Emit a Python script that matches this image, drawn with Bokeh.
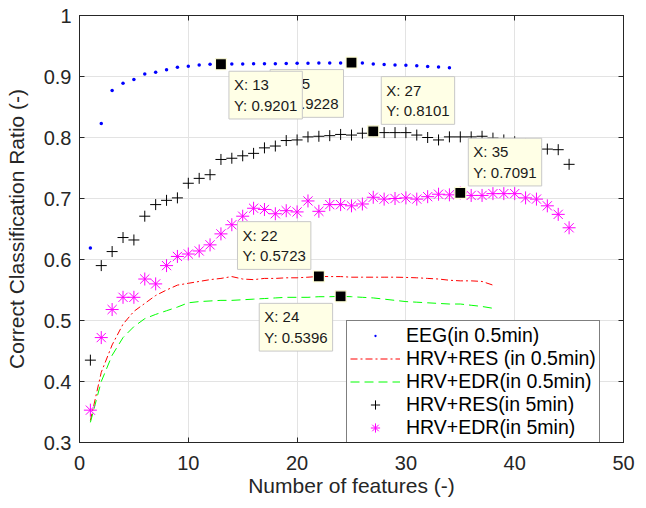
from bokeh.plotting import figure
from bokeh.models import Legend, LegendItem, Label, LinearAxis, Range1d, FixedTicker
from bokeh.embed import file_html
from bokeh.resources import INLINE

# ---------------- data ----------------
features_eeg = list(range(1, 35))
eeg_05 = [0.619, 0.823, 0.877, 0.889, 0.895, 0.904, 0.907, 0.911, 0.915, 0.917,
          0.919, 0.920, 0.9201, 0.9203, 0.9205, 0.9207, 0.9209, 0.9211, 0.9213, 0.9216,
          0.9218, 0.9220, 0.9221, 0.9222, 0.9228, 0.9220, 0.9205, 0.9196, 0.9190, 0.9183,
          0.9175, 0.9165, 0.9155, 0.9143]

features_05 = list(range(1, 39))
hrv_res_05 = [0.336, 0.415, 0.460, 0.494, 0.515, 0.528, 0.541, 0.550, 0.558, 0.561,
              0.564, 0.567, 0.569, 0.572, 0.568, 0.567, 0.569, 0.569, 0.570, 0.570,
              0.571, 0.5723, 0.572, 0.572, 0.571, 0.571, 0.571, 0.571, 0.571, 0.5706,
              0.570, 0.569, 0.568, 0.566, 0.565, 0.565, 0.564, 0.558]
hrv_edr_05 = [0.333, 0.400, 0.443, 0.472, 0.490, 0.503, 0.510, 0.516, 0.522, 0.529,
              0.531, 0.532, 0.533, 0.533, 0.534, 0.535, 0.536, 0.537, 0.538, 0.538,
              0.538, 0.539, 0.539, 0.5396, 0.539, 0.538, 0.537, 0.535, 0.533, 0.531,
              0.530, 0.529, 0.528, 0.527, 0.527, 0.525, 0.523, 0.520]

features_5 = list(range(1, 46))
hrv_res_5 = [0.435, 0.590, 0.613, 0.636, 0.632, 0.671, 0.690, 0.697, 0.701, 0.725,
             0.733, 0.739, 0.764, 0.766, 0.770, 0.774, 0.783, 0.786, 0.795, 0.796,
             0.801, 0.802, 0.803, 0.805, 0.804, 0.807, 0.8101, 0.808, 0.808, 0.808,
             0.804, 0.800, 0.796, 0.801, 0.801, 0.801, 0.802, 0.799, 0.796, 0.793,
             0.789, 0.785, 0.781, 0.780, 0.756]
hrv_edr_5 = [0.353, 0.472, 0.518, 0.538, 0.538, 0.568, 0.560, 0.590, 0.605, 0.609,
             0.614, 0.624, 0.642, 0.657, 0.671, 0.684, 0.682, 0.675, 0.680, 0.678,
             0.696, 0.679, 0.690, 0.690, 0.688, 0.691, 0.702, 0.699, 0.700, 0.701,
             0.699, 0.703, 0.707, 0.706, 0.7091, 0.705, 0.705, 0.708, 0.708, 0.708,
             0.701, 0.699, 0.688, 0.674, 0.652]

# data tips (drawn in this order: later ones on top)
tip_x = [25, 13, 27, 35, 22, 24]
tip_y = [0.9228, 0.9201, 0.8101, 0.7091, 0.5723, 0.5396]
tip_anchor = ["top_right", "top_left", "bottom_left", "bottom_left", "bottom_right", "top_right"]

x_ticks = [0, 10, 20, 30, 40, 50]
y_ticks = [0.3, 0.4, 0.5, 0.6, 0.7, 0.8, 0.9, 1.0]
y_tick_labels = ["0.3", "0.4", "0.5", "0.6", "0.7", "0.8", "0.9", "1"]

series_names = ["EEG(in 0.5min)", "HRV+RES (in 0.5min)", "HRV+EDR(in 0.5min)",
                "HRV+RES(in 5min)", "HRV+EDR(in 5min)"]

# ---------------- figure ----------------
AX = "#262626"
FONT = "Liberation Sans"

p = figure(frame_width=544, frame_height=427, width=638, height=500,
           min_border_left=79, min_border_top=15, min_border_right=15, min_border_bottom=58,
           x_range=Range1d(0, 50), y_range=Range1d(0.3, 1.0),
           output_backend="svg", toolbar_location=None,
           background_fill_color="white", border_fill_color="white")

p.outline_line_color = AX
p.outline_line_width = 1
p.grid.grid_line_color = "#e3e3e3"
p.grid.grid_line_width = 1

p.xaxis.ticker = FixedTicker(ticks=x_ticks)
p.yaxis.ticker = FixedTicker(ticks=y_ticks)
p.yaxis.major_label_overrides = {t: l for t, l in zip(y_ticks, y_tick_labels)}
p.xgrid.ticker = FixedTicker(ticks=x_ticks)
p.ygrid.ticker = FixedTicker(ticks=y_ticks)

for ax in (p.xaxis[0], p.yaxis[0]):
    ax.axis_line_color = AX
    ax.major_tick_line_color = AX
    ax.major_tick_in = 5
    ax.major_tick_out = 0
    ax.minor_tick_line_color = None
    ax.major_label_text_font = FONT
    ax.major_label_text_font_size = "20px"
    ax.major_label_text_color = AX
    ax.axis_label_text_font = FONT
    ax.axis_label_text_font_size = "21px"
    ax.axis_label_text_font_style = "normal"
    ax.axis_label_text_color = AX

p.xaxis.axis_label = "Number of features (-)"
p.yaxis.axis_label = "Correct Classification Ratio (-)"
p.xaxis.major_label_standoff = 13
p.xaxis.axis_label_standoff = 1
p.yaxis.major_label_standoff = 8
p.yaxis.axis_label_standoff = 13

# mirrored axes (ticks only, no labels) on top and right
top_ax = LinearAxis(ticker=FixedTicker(ticks=x_ticks))
right_ax = LinearAxis(ticker=FixedTicker(ticks=y_ticks))
top_ax.major_label_overrides = {t: "" for t in x_ticks}
right_ax.major_label_overrides = {t: "" for t in y_ticks}
for ax in (top_ax, right_ax):
    ax.axis_line_color = AX
    ax.major_tick_line_color = AX
    ax.major_tick_in = 5
    ax.major_tick_out = 0
    ax.minor_tick_line_color = None
    ax.major_label_standoff = 0
p.add_layout(top_ax, "above")
p.add_layout(right_ax, "right")

# ---------------- series ----------------
r_red = p.line(features_05, hrv_res_05, line_color="#ff0000", line_width=1, line_dash="7 3 2 3")
r_green = p.line(features_05, hrv_edr_05, line_color="#00ff00", line_width=1, line_dash="9 5")
r_eeg = p.scatter(features_eeg, eeg_05, marker="dot", size=14,
                  fill_color="#0000ff", line_color="#0000ff")
r_plus = p.scatter(features_5, hrv_res_5, marker="cross", size=11,
                   line_color="#000000", line_width=1)
r_star = p.scatter(features_5, hrv_edr_5, marker="asterisk", size=13,
                   line_color="#ff00ff", line_width=1)

# data-tip markers
p.scatter(tip_x, tip_y, marker="square", size=11, fill_color="black",
          line_color="#ffffd8", line_width=1.2)

# data-tip boxes
for tx, ty, anc in zip(tip_x, tip_y, tip_anchor):
    xo = 8 if anc.endswith("left") else -8
    yo = -7 if anc.startswith("top") else 7
    txt = "X: %d\nY: %.4f" % (tx, ty)
    lab = Label(x=tx, y=ty, x_offset=xo, y_offset=yo, anchor=anc, text=txt,
                text_font=FONT, text_font_size="15px", text_color="#1a1a1a",
                text_line_height=1.22,
                background_fill_color="#ffffe6", background_fill_alpha=1.0,
                border_line_color="#c8c8c8", border_line_width=1,
                padding=5)
    p.add_layout(lab)

# ---------------- legend ----------------
legend = Legend(items=[
    LegendItem(label=series_names[0], renderers=[r_eeg]),
    LegendItem(label=series_names[1], renderers=[r_red]),
    LegendItem(label=series_names[2], renderers=[r_green]),
    LegendItem(label=series_names[3], renderers=[r_plus]),
    LegendItem(label=series_names[4], renderers=[r_star]),
])
legend.location = (267, -1)
legend.label_text_font = FONT
legend.label_text_font_size = "19.5px"
legend.label_text_color = "#000000"
legend.glyph_width = 50
legend.glyph_height = 23
legend.label_height = 23
legend.label_standoff = 6
legend.spacing = 0
legend.padding = 3
legend.margin = 0
legend.border_line_color = "#000000"
legend.border_line_width = 1
legend.background_fill_color = "white"
legend.background_fill_alpha = 1.0
p.add_layout(legend)

open("out.html", "w").write(file_html(p, INLINE))
